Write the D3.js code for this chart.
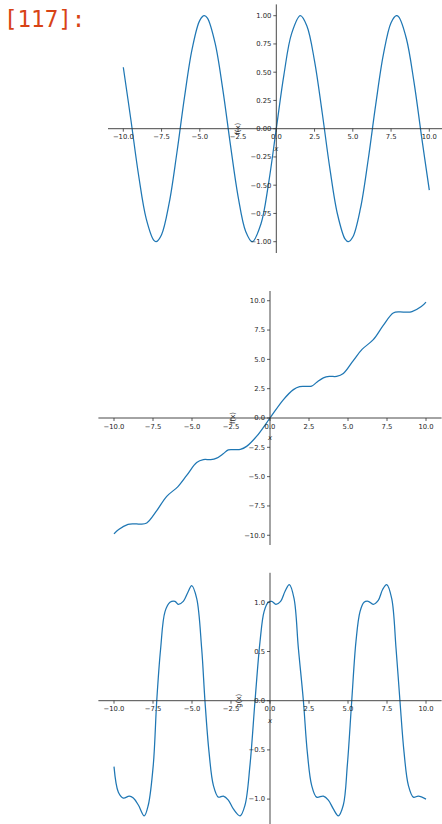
<!DOCTYPE html>
<html><head><meta charset="utf-8">
<script src="https://cdn.jsdelivr.net/npm/d3@7"></script>
<style>body{margin:0;background:#fff;} svg{display:block}</style>
</head><body>
<svg id="c" width="442" height="824"></svg>
<script>
// ---- data ----
const xTicks = [-10, -7.5, -5, -2.5, 0, 2.5, 5, 7.5, 10];

const p1X = [-10,-9.5,-9,-8.5,-8,-7.85,-7.5,-7,-6.5,-6,-5.5,-5,-4.71,-4.5,-4,-3.5,-3,-2.5,-2,-1.57,-1,-0.5,0,0.5,1,1.57,2,2.5,3,3.5,4,4.5,4.71,5,5.5,6,6.5,7,7.5,7.85,8,8.5,9,9.5,10];
const p1Y = [0.544,0.075,-0.412,-0.798,-0.989,-1.0,-0.938,-0.657,-0.215,0.279,0.706,0.959,1.0,0.978,0.757,0.351,-0.141,-0.598,-0.909,-1.0,-0.841,-0.479,0,0.479,0.841,1.0,0.909,0.598,0.141,-0.351,-0.757,-0.978,-1.0,-0.959,-0.706,-0.279,0.215,0.657,0.938,1.0,0.989,0.798,0.412,-0.075,-0.544];
const p1YTicks = [-1, -0.75, -0.5, -0.25, 0, 0.25, 0.5, 0.75, 1];

const p2X = [-10,-9.7,-9.1,-8.76,-8.3,-7.9,-7.26,-6.62,-5.9,-5.34,-4.7,-4.27,-3.8,-3.42,-3.0,-2.67,-2.3,-1.9,-1.5,-0.85,0,0.85,1.5,1.9,2.3,2.67,3.0,3.42,3.8,4.27,4.7,5.34,5.9,6.62,7.26,7.9,8.3,8.76,9.1,9.7,10];
const p2Y = [-9.88,-9.5,-9.07,-9.02,-9.05,-8.95,-7.9,-6.68,-5.85,-4.9,-3.8,-3.55,-3.55,-3.42,-3.05,-2.72,-2.7,-2.68,-2.42,-1.55,0,1.55,2.42,2.68,2.7,2.72,3.05,3.42,3.55,3.55,3.8,4.9,5.85,6.68,7.9,8.95,9.05,9.02,9.07,9.5,9.88];
const p2YTicks = [-10, -7.5, -5, -2.5, 0, 2.5, 5, 7.5, 10];

const p3X = [-10,-9.72,-9.4,-9.02,-8.76,-8.44,-8.06,-7.8,-7.48,-7.26,-7.01,-6.73,-6.41,-6.09,-5.88,-5.56,-5.24,-5.02,-4.7,-4.38,-4.17,-3.91,-3.63,-3.31,-2.99,-2.67,-2.35,-1.92,-1.6,-1.28,-0.96,-0.64,-0.38,-0.11,0.11,0.38,0.68,0.96,1.24,1.54,1.82,2.14,2.39,2.67,2.99,3.42,3.74,4.06,4.38,4.7,4.96,5.24,5.51,5.77,6.03,6.3,6.62,6.94,7.22,7.48,7.8,8.08,8.33,8.59,8.87,9.19,9.51,10];
const p3Y = [-0.67,-0.93,-0.99,-0.97,-0.99,-1.06,-1.17,-1.06,-0.65,0,0.53,0.905,1.0,1.01,0.98,1.01,1.11,1.17,1.04,0.53,0,-0.52,-0.86,-0.98,-0.97,-1.01,-1.10,-1.17,-1.06,-0.65,0,0.6,0.905,1.0,1.01,0.98,1.01,1.11,1.18,1.04,0.53,0,-0.52,-0.86,-0.98,-0.97,-1.01,-1.10,-1.17,-1.06,-0.65,0,0.6,0.905,1.0,1.01,0.98,1.02,1.13,1.18,1.04,0.53,0,-0.52,-0.86,-0.98,-0.97,-1.0];
const p3YTicks = [-1, -0.5, 0, 0.5, 1];

const yLabels = ["f(x)", "f(x)", "g(x)"];
const xLabel = "x";
const prompt = "[117]:";

// ---- layout ----
const svg = d3.select("#c");
const minus = s => s.replace("-", "\u2212");

svg.append("text").attr("x", 4).attr("y", 27)
  .attr("font-family", "DejaVu Sans Mono, monospace").attr("font-size", 22.5)
  .attr("fill", "#d84315").text(prompt);

const panels = [
  {xs: p1X, ys: p1Y, yt: p1YTicks, fmt: 2, xr: [108, 444.6], yd: [-1.1, 1.1], yr: [253, 4.4], lab: yLabels[0], labOff: 38.6},
  {xs: p2X, ys: p2Y, yt: p2YTicks, fmt: 1, xr: [98.4, 441.6], yd: [-10.83, 10.83], yr: [545, 291], lab: yLabels[1], labOff: 37.7},
  {xs: p3X, ys: p3Y, yt: p3YTicks, fmt: 1, xr: [98.4, 441.6], yd: [-1.3, 1.3], yr: [828.6, 572.8], lab: yLabels[2], labOff: 31.7}
];

const ink = "#333";
const fs = 6.8;
panels.forEach(p => {
  const x = d3.scaleLinear().domain([-11, 11]).range(p.xr);
  const y = d3.scaleLinear().domain(p.yd).range(p.yr);
  const g = svg.append("g");
  const x0 = x(0), y0 = y(0);

  const pts = p.xs.map((v, i) => [v, p.ys[i]]);
  g.append("path").datum(pts)
    .attr("d", d3.line().x(d => x(d[0])).y(d => y(d[1])).curve(d3.curveCatmullRom.alpha(0.5)))
    .attr("fill", "none").attr("stroke", "#1f77b4").attr("stroke-width", 1.25);

  g.append("line").attr("x1", p.xr[0]).attr("x2", p.xr[1]).attr("y1", y0).attr("y2", y0)
    .attr("stroke", ink).attr("stroke-width", 0.9);
  g.append("line").attr("x1", x0).attr("x2", x0).attr("y1", p.yr[0]).attr("y2", p.yr[1])
    .attr("stroke", ink).attr("stroke-width", 0.9);

  xTicks.forEach(t => {
    g.append("line").attr("x1", x(t)).attr("x2", x(t)).attr("y1", y0).attr("y2", y0 + 3)
      .attr("stroke", ink).attr("stroke-width", 0.8);
    g.append("text").attr("x", x(t)).attr("y", y0 + 10.5).attr("text-anchor", "middle")
      .attr("font-family", "DejaVu Sans").attr("font-size", fs).attr("fill", "#262626")
      .text(minus(t.toFixed(1)));
  });
  p.yt.forEach(t => {
    g.append("line").attr("x1", x0 - 3).attr("x2", x0).attr("y1", y(t)).attr("y2", y(t))
      .attr("stroke", ink).attr("stroke-width", 0.8);
    g.append("text").attr("x", x0 - 5).attr("y", y(t)).attr("dy", "0.35em").attr("text-anchor", "end")
      .attr("font-family", "DejaVu Sans").attr("font-size", fs).attr("fill", "#262626")
      .text(minus(t.toFixed(p.fmt)));
  });
  g.append("text").attr("x", x0).attr("y", y0 + 19.5).attr("dy", "0.35em").attr("text-anchor", "middle")
    .attr("font-family", "DejaVu Sans").attr("font-style", "italic").attr("font-size", 7).attr("fill", "#262626")
    .text(xLabel);
  g.append("text").attr("transform", `translate(${x0 - p.labOff},${y0}) rotate(-90)`)
    .attr("dy", "0.35em").attr("text-anchor", "middle")
    .attr("font-family", "DejaVu Sans").attr("font-size", 7).attr("fill", "#262626")
    .text(p.lab);
});
</script>
</body></html>
